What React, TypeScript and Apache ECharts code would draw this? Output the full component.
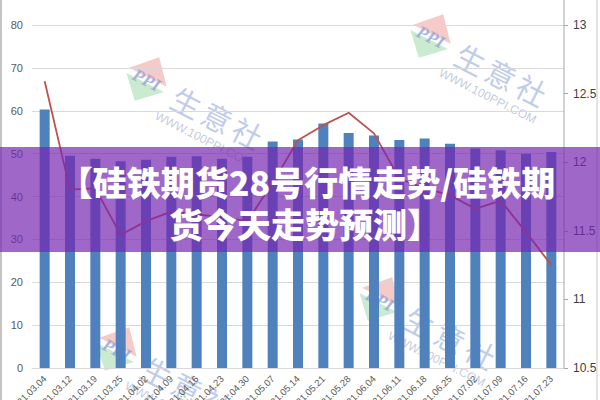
import React, { useEffect, useRef } from "react";
import * as echarts from "echarts";

const categories = [
  "2021.03.04", "2021.03.12", "2021.03.19", "2021.03.25", "2021.04.02", "2021.04.09", "2021.04.16",
  "2021.04.23", "2021.04.30", "2021.05.07", "2021.05.14", "2021.05.21", "2021.05.28", "2021.06.04",
  "2021.06.11", "2021.06.18", "2021.06.25", "2021.07.02", "2021.07.09", "2021.07.16", "2021.07.23",
];
const barValues = [60.3, 49.5, 48.8, 48.2, 48.6, 49.3, 49.4, 48.8, 49.3, 52.8, 53.3, 57.0, 54.8, 54.2, 53.2, 53.5, 52.3, 51.2, 50.8, 50.0, 50.4];
const lineValues = [12.59, 11.8, 11.81, 11.47, 11.57, 11.64, 11.62, 11.6, 11.57, 11.85, 12.16, 12.27, 12.36, 12.21, 11.88, 11.81, 11.76, 11.66, 11.72, 11.49, 11.25];
const leftTicks = [0, 10, 20, 30, 40, 50, 60, 70, 80];
const rightTicks = [10.5, 11, 11.5, 12, 12.5, 13];
const titleLines = ["【硅铁期货28号行情走势/硅铁期", "货今天走势预测】"];
const watermarkLogo = "PPI";
const watermarkChars = ["生", "意", "社"];
const watermarkSite = "WWW.100PPI.COM";
const watermarkSpots = [
  [147, 79],
  [431, 36],
  [117, 349],
  [380, 299],
];

function watermark(cx: number, cy: number) {
  return {
    type: "group",
    x: cx,
    y: cy,
    rotation: -0.47,
    silent: true,
    z: 50,
    children: [
      { type: "polygon", shape: { points: [[-21, -2], [1, -25], [21, -2]] }, style: { fill: "rgba(240,150,150,0.5)" } },
      { type: "polygon", shape: { points: [[-21, 4], [-1, 25], [21, 4]] }, style: { fill: "rgba(150,215,160,0.5)" } },
      {
        type: "text",
        x: 0,
        y: 1,
        style: {
          text: watermarkLogo,
          font: "italic bold 18px 'Liberation Serif', serif",
          fill: "rgba(140,160,215,0.75)",
          align: "center",
          verticalAlign: "middle",
        },
      },
      ...watermarkChars.map((ch, i) => ({
        type: "text",
        x: 46 + i * 34,
        y: 2,
        style: {
          text: ch,
          font: "30px 'Noto Sans CJK SC', sans-serif",
          fill: "rgba(150,170,220,0.6)",
          align: "center",
          verticalAlign: "middle",
        },
      })),
      {
        type: "text",
        x: 24,
        y: 28,
        style: {
          text: watermarkSite,
          font: "12px 'Liberation Sans', sans-serif",
          fill: "rgba(170,180,205,0.7)",
          align: "left",
          verticalAlign: "middle",
        },
      },
    ],
  };
}

export default function App() {
  const ref = useRef<HTMLDivElement>(null);
  useEffect(() => {
    if (!ref.current) return;
    const chart = echarts.init(ref.current, null, { renderer: "svg" });
    const graphics: any[] = [
      { type: "line", shape: { x1: 564, y1: 0, x2: 564, y2: 368 }, style: { stroke: "#a6a6a6", lineWidth: 1 }, z: 10, silent: true },
      { type: "line", shape: { x1: 1, y1: 0, x2: 1, y2: 400 }, style: { stroke: "#b0b0b0", lineWidth: 1.5 }, z: 10, silent: true },
      { type: "line", shape: { x1: 597, y1: 0, x2: 597, y2: 400 }, style: { stroke: "#c8c8c8", lineWidth: 1 }, z: 10, silent: true },
      ...watermarkSpots.map(([x, y]) => watermark(x, y)),
      {
        type: "rect",
        shape: { x: 0, y: 147, width: 600, height: 105 },
        style: { fill: "rgba(118,38,176,0.7)" },
        z: 100,
        silent: true,
      },
      {
        type: "text",
        x: 307,
        y: 181,
        z: 101,
        style: {
          text: titleLines[0],
          font: "900 34px 'Noto Sans CJK SC', sans-serif",
          fill: "#ffffff",
          align: "center",
          verticalAlign: "middle",
        },
      },
      {
        type: "text",
        x: 305,
        y: 223,
        z: 101,
        style: {
          text: titleLines[1],
          font: "900 34px 'Noto Sans CJK SC', sans-serif",
          fill: "#ffffff",
          align: "center",
          verticalAlign: "middle",
        },
      },
    ];
    chart.setOption({
      animation: false,
      backgroundColor: "#ffffff",
      grid: { left: 32, right: 36, top: 25, bottom: 32, containLabel: false, outerBoundsMode: "none" },
      xAxis: {
        type: "category",
        data: categories,
        boundaryGap: true,
        axisLine: { show: true, lineStyle: { color: "#d9d9d9" } },
        axisTick: { show: false },
        axisLabel: {
          interval: 0,
          rotate: 45,
          fontSize: 9.5,
          color: "#595959",
          margin: 9,
          fontFamily: "'Liberation Sans', sans-serif",
        },
      },
      yAxis: [
        {
          type: "value",
          min: leftTicks[0],
          max: leftTicks[leftTicks.length - 1],
          interval: leftTicks[1] - leftTicks[0],
          axisLine: { show: false },
          axisTick: { show: false },
          axisLabel: { fontSize: 11, color: "#595959", margin: 9, fontFamily: "'Liberation Sans', sans-serif" },
          splitLine: { show: true, lineStyle: { color: "#d9d9d9", width: 1 } },
        },
        {
          type: "value",
          position: "right",
          min: rightTicks[0],
          max: rightTicks[rightTicks.length - 1],
          interval: rightTicks[1] - rightTicks[0],
          axisLine: { show: false },
          axisTick: { show: true, length: 4, lineStyle: { color: "#a6a6a6" } },
          axisLabel: { fontSize: 12, color: "#404040", margin: 9, fontFamily: "'Liberation Sans', sans-serif" },
          splitLine: { show: false },
        },
      ],
      series: [
        {
          type: "bar",
          data: barValues,
          yAxisIndex: 0,
          barWidth: 10,
          itemStyle: { color: "#4f81bd" },
          z: 2,
        },
        {
          type: "line",
          data: lineValues,
          yAxisIndex: 1,
          symbol: "none",
          lineStyle: { color: "#c0504d", width: 1.8 },
          z: 3,
        },
      ],
      graphic: graphics,
    });
    return () => chart.dispose();
  }, []);
  return <div ref={ref} style={{ position: "fixed", left: 0, top: 0, width: 600, height: 400 }} />;
}
